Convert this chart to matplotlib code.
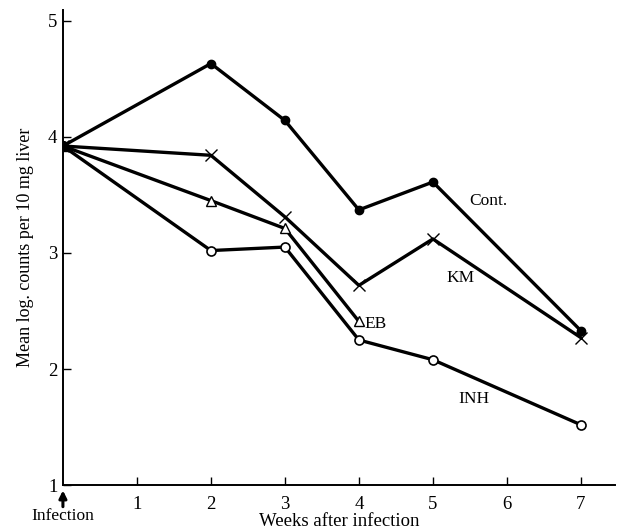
import matplotlib.pyplot as plt

plt.rcParams["font.family"] = ["Liberation Serif", "DejaVu Serif"]

weeks = [0, 2, 3, 4, 5, 7]
weeks_eb = [0, 2, 3, 4]
cont = [3.92, 4.63, 4.14, 3.37, 3.61, 2.33]
km = [3.92, 3.84, 3.31, 2.72, 3.12, 2.27]
eb = [3.92, 3.45, 3.21, 2.41]
inh = [3.92, 3.02, 3.05, 2.25, 2.08, 1.52]

fig = plt.figure(figsize=(6.23, 5.32), dpi=100)
ax = fig.add_axes([0.101, 0.088, 0.886, 0.893])

lw = 2.4
ax.plot(weeks, cont, color="black", lw=lw, marker="o", ms=6, mfc="black")
ax.plot(weeks, km, color="black", lw=lw, marker="x", ms=8, mew=1.0)
ax.plot(weeks_eb, eb, color="black", lw=lw, marker="^", ms=7, mfc="white", mew=1.0)
ax.plot(weeks, inh, color="black", lw=lw, marker="o", ms=6.5, mfc="white", mew=1.2)
ax.plot([0], [3.92], color="black", marker="o", ms=7)

ax.text(5.75, 3.45, "Cont.", fontsize=12.5, ha="center", va="center")
ax.text(5.38, 2.78, "KM", fontsize=12.5, ha="center", va="center")
ax.text(4.08, 2.39, "EB", fontsize=12.5, ha="left", va="center")
ax.text(5.55, 1.74, "INH", fontsize=12.5, ha="center", va="center")

ax.set_xlim(0, 7.46)
ax.set_ylim(1, 5.09)
ax.set_xticks([1, 2, 3, 4, 5, 6, 7])
ax.set_yticks([1, 2, 3, 4, 5])
ax.tick_params(direction="in", length=6, width=1, labelsize=13.5)
ax.tick_params(axis="x", pad=8)
ax.tick_params(axis="y", pad=4)
for s in ["top", "right"]:
    ax.spines[s].set_visible(False)
for s in ["left", "bottom"]:
    ax.spines[s].set_linewidth(1.4)

# upward arrow marking the time of infection
ax.annotate("", xy=(0, 0.955), xytext=(0, 0.815),
            annotation_clip=False,
            arrowprops=dict(arrowstyle="-|>", color="black", lw=2.2,
                            mutation_scale=11, shrinkA=0, shrinkB=0))
ax.text(0, 0.735, "Infection", fontsize=12.5, ha="center", va="center", clip_on=False)

ax.set_xlabel("Weeks after infection", fontsize=13.5, labelpad=0)
ax.set_ylabel("Mean log. counts per 10 mg liver", fontsize=13, labelpad=10)

fig.savefig("out.png", dpi=100)
